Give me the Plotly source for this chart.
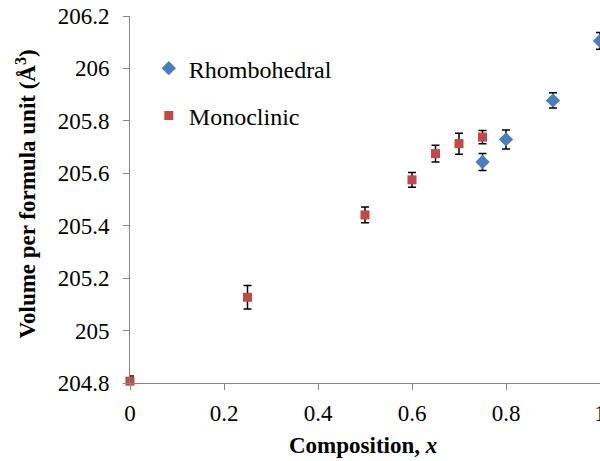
import plotly.graph_objects as go

# Rhombohedral phase
rh_x = [0.75, 0.8, 0.9, 1.0]
rh_v = [205.643, 205.729, 205.878, 206.105]
rh_err = [0.032, 0.036, 0.029, 0.032]

# Monoclinic phase
mo_x = [0.0, 0.25, 0.5, 0.6, 0.65, 0.7, 0.75]
mo_v = [204.807, 205.127, 205.441, 205.575, 205.675, 205.713, 205.738]
mo_err = [0.02, 0.045, 0.03, 0.028, 0.032, 0.04, 0.025]

x_ticks = [0, 0.2, 0.4, 0.6, 0.8, 1]
x_labels = ["0", "0.2", "0.4", "0.6", "0.8", "1"]
y_ticks = [204.8, 205.0, 205.2, 205.4, 205.6, 205.8, 206.0, 206.2]
y_labels = ["204.8", "205", "205.2", "205.4", "205.6", "205.8", "206", "206.2"]

x_range = [0, 1]
y_range = [204.8, 206.2]

font = "Liberation Serif"
axis_col = "#868686"

fig = go.Figure()
fig.add_trace(go.Scatter(
    x=rh_x, y=rh_v, mode="markers", name="Rhombohedral", legendgroup="rh",
    marker=dict(symbol="diamond", size=11, color="#4A7EBB"),
    error_y=dict(type="data", array=rh_err, color="black", thickness=1.5, width=4),
    cliponaxis=False,
))
# second series sits on the overlay axes (same ranges) so those get drawn
fig.add_trace(go.Scatter(
    x=mo_x, y=mo_v, mode="markers", name="Monoclinic", legendgroup="mo",
    xaxis="x2", yaxis="y2",
    marker=dict(symbol="square", size=9, color="#BE4B48"),
    error_y=dict(type="data", array=mo_err, color="black", thickness=1.5, width=4),
    cliponaxis=False,
))

# Label axes: invisible long ticks set the gap between axis and labels
label_axis = dict(
    tickfont=dict(family=font, size=23), ticklabeloverflow="allow",
    automargin=False, showline=False, showgrid=False, zeroline=False,
    ticks="outside", tickcolor="rgba(0,0,0,0)",
)
# Overlay axes: the visible axis lines and short tick marks
mark_axis = dict(
    showticklabels=False, automargin=False,
    showline=True, linecolor=axis_col, linewidth=1,
    ticks="outside", ticklen=6, tickcolor=axis_col,
    showgrid=False, zeroline=False,
)

fig.update_layout(
    width=600, height=461,
    margin=dict(l=130, r=0, t=16, b=78),
    plot_bgcolor="white", paper_bgcolor="white",
    font=dict(family=font, size=23, color="black"),
    showlegend=True,
    legend=dict(
        x=0.04, y=0.918, xanchor="left", yanchor="top",
        bgcolor="rgba(0,0,0,0)", font=dict(family=font, size=24),
        traceorder="grouped", tracegroupgap=13, itemwidth=30,
    ),
    xaxis=dict(range=x_range, tickvals=x_ticks, ticktext=x_labels, ticklen=9, **label_axis),
    yaxis=dict(range=y_range, tickvals=y_ticks, ticktext=y_labels, ticklen=15, **label_axis),
    xaxis2=dict(range=x_range, tickvals=x_ticks, overlaying="x", side="bottom", anchor="y2", **mark_axis),
    yaxis2=dict(range=y_range, tickvals=y_ticks, overlaying="y", side="left", anchor="x2", **mark_axis),
    annotations=[
        dict(text="<b>Composition, <i>x</i></b>", xref="paper", yref="paper",
             x=0.496, y=-0.169, xanchor="center", yanchor="middle",
             showarrow=False, font=dict(family=font, size=23)),
        dict(text="<b>Volume per formula unit (Å<sup>3</sup>)</b>", xref="paper", yref="paper",
             x=-0.2202, y=0.515, xanchor="center", yanchor="middle", textangle=-90,
             showarrow=False, font=dict(family=font, size=23)),
    ],
)

fig.write_html("out.html")
